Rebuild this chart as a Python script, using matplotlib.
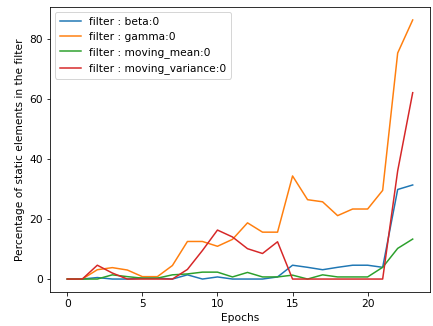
import matplotlib
matplotlib.use("Agg")
import matplotlib.pyplot as plt

epochs = list(range(24))
beta = [0, 0, 0.5, 0, 0, 0.3, 0.3, 0, 1.4, 0, 0.7, 0, 0, 0, 0.7, 4.6, 3.9, 3.1, 3.9, 4.6, 4.6, 3.9, 29.8, 31.3]
gamma = [0, 0, 3.1, 3.8, 3.0, 0.8, 0.8, 4.5, 12.5, 12.5, 10.9, 13.2, 18.7, 15.6, 15.6, 34.3, 26.4, 25.7, 21.1, 23.3, 23.3, 29.5, 75.2, 86.2]
moving_mean = [0, 0, 0, 1.4, 0.8, 0.3, 0.3, 1.4, 1.7, 2.3, 2.3, 0.7, 2.2, 0.7, 0.7, 1.3, 0, 1.4, 0.7, 0.7, 0.7, 3.9, 10.2, 13.3]
moving_variance = [0, 0, 4.6, 2.0, 0, 0, 0, 0, 3.2, 9.5, 16.3, 14.0, 10.1, 8.5, 12.4, 0, 0, 0, 0, 0, 0, 0, 36.0, 62.0]

labels = ["filter : beta:0", "filter : gamma:0", "filter : moving_mean:0", "filter : moving_variance:0"]

plt.rcParams["font.size"] = 10.6
DPI = 72
fig = plt.figure(figsize=(433 / DPI, 326 / DPI), dpi=DPI)
ax = fig.add_axes([0.1155, 0.1043, 0.993 - 0.1155, 0.9785 - 0.1043])
for series, lab in zip([beta, gamma, moving_mean, moving_variance], labels):
    ax.plot(epochs, series, label=lab)
ax.set_xlabel("Epochs")
ax.set_ylabel("Percentage of static elements in the filter")
ax.legend(loc="upper left")
fig.savefig("out.png", dpi=DPI)
